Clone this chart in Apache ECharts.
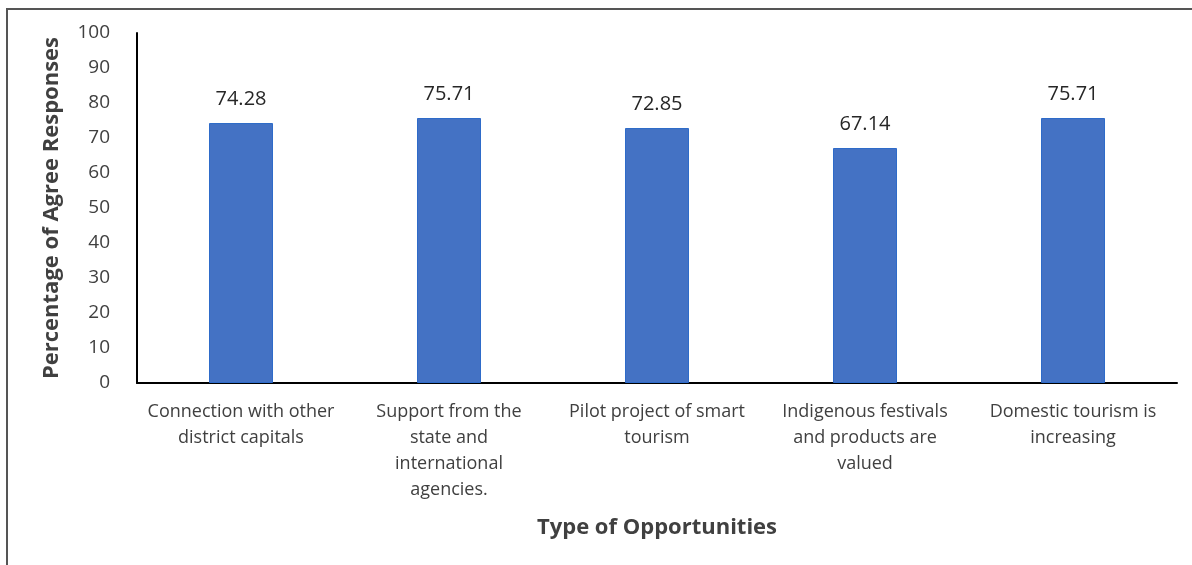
<!DOCTYPE html>
<html>
<head>
<meta charset="utf-8">
<script src="https://cdn.jsdelivr.net/npm/echarts@6/dist/echarts.min.js"></script>
<style>
  html, body { margin: 0; padding: 0; background: #fff; }
  #chart { width: 1192px; height: 565px; }
</style>
</head>
<body>
<div id="chart"></div>
<script>
// categories (line breaks as in the original figure)
var categories = [
  'Connection with other\ndistrict capitals',
  'Support from the\nstate and\ninternational\nagencies.',
  'Pilot project of smart\ntourism',
  'Indigenous festivals\nand products are\nvalued',
  'Domestic tourism is\nincreasing'
];
var agreeValues = [74.28, 75.71, 72.85, 67.14, 75.71];

var font = '"Open Sans", sans-serif';
var chart = echarts.init(document.getElementById('chart'));

chart.setOption({
  animation: false,
  textStyle: { fontFamily: font },
  grid: { left: 137, right: 15, top: 33, bottom: 182 },
  graphic: [{
    type: 'polyline',
    shape: { points: [[7, 565], [7, 9], [1192, 9]] },
    style: { stroke: '#555', lineWidth: 2, fill: null }
  }],
  xAxis: {
    type: 'category',
    data: categories,
    name: 'Type of Opportunities',
    nameLocation: 'middle',
    nameGap: 134,
    nameTextStyle: { fontFamily: font, fontSize: 22, fontWeight: 'bold', color: '#404040' },
    axisLine: { lineStyle: { color: '#000', width: 2 } },
    axisTick: { show: false },
    axisLabel: {
      interval: 0,
      margin: 16,
      fontSize: 18,
      lineHeight: 26,
      color: '#404040',
      fontFamily: font
    }
  },
  yAxis: {
    type: 'value',
    min: 0,
    max: 100,
    interval: 10,
    name: 'Percentage of Agree Responses',
    nameLocation: 'middle',
    nameRotate: 90,
    nameGap: 74,
    nameTextStyle: { fontFamily: font, fontSize: 22, fontWeight: 'bold', color: '#404040' },
    axisLine: { show: true, lineStyle: { color: '#000', width: 2 } },
    axisTick: { show: false },
    splitLine: { show: false },
    axisLabel: { margin: 27, fontSize: 19, color: '#404040', fontFamily: font }
  },
  series: [{
    type: 'bar',
    data: agreeValues,
    barWidth: 64,
    itemStyle: { color: '#4472C4', borderColor: '#2E6BC9', borderWidth: 1 },
    label: {
      show: true,
      position: 'top',
      distance: 14,
      fontSize: 20,
      color: '#262626',
      fontFamily: font,
      formatter: function (p) { return p.value.toFixed(2); }
    }
  }]
});
</script>
</body>
</html>
